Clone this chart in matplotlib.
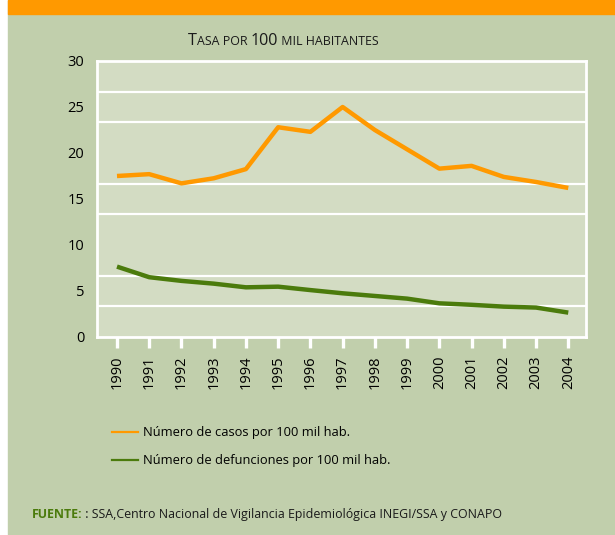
import matplotlib
matplotlib.use("Agg")
import matplotlib.pyplot as plt
from matplotlib.lines import Line2D
from matplotlib.patches import Rectangle
from matplotlib.ticker import FixedLocator

plt.rcParams['font.family'] = ['Open Sans', 'DejaVu Sans']

years = [1990, 1991, 1992, 1993, 1994, 1995, 1996, 1997, 1998, 1999, 2000, 2001, 2002, 2003, 2004]
casos = [17.5, 17.7, 16.7, 17.25, 18.25, 22.8, 22.3, 25.0, 22.5, 20.4, 18.3, 18.6, 17.4, 16.85, 16.2]
defunciones = [7.65, 6.5, 6.1, 5.8, 5.4, 5.47, 5.1, 4.75, 4.46, 4.17, 3.66, 3.5, 3.3, 3.2, 2.65]
yticks = [0, 5, 10, 15, 20, 25, 30]
label_casos = "Número de casos por 100 mil hab."
label_def = "Número de defunciones por 100 mil hab."

ORANGE = "#ff9900"
GREEN = "#4b7b0c"
FIG_BG = "#c1cfac"
AX_BG = "#d3dcc3"

W, H = 615, 535
fig = plt.figure(figsize=(6.15, 5.35), dpi=100)
fig.patch.set_facecolor("white")
fig.add_artist(Rectangle((8/W, 0), 1, 1, transform=fig.transFigure, color=FIG_BG, zorder=-10))
fig.add_artist(Rectangle((8/W, 1-14/H), 1, 14/H, transform=fig.transFigure, color=ORANGE, zorder=-9))

ax = fig.add_axes([97/W, 1-337/H, (586-97)/W, (337-61)/H])
ax.set_facecolor(AX_BG)
ax.plot(years, casos, color=ORANGE, lw=3.2, solid_capstyle='butt', zorder=3)
ax.plot(years, defunciones, color=GREEN, lw=3.2, solid_capstyle='butt', zorder=3)

ax.set_xlim(1989.38, 2004.55)
ax.set_ylim(0, 30)
ax.set_yticks(yticks)
ax.set_yticklabels([str(v) for v in yticks], fontsize=10.5)
ax.yaxis.set_minor_locator(FixedLocator([i * 10 / 3 for i in range(10)]))
ax.grid(which='minor', axis='y', color='white', lw=1.6)
ax.tick_params(axis='y', which='both', length=0, pad=9, labelsize=10.5)
ax.set_xticks(years)
ax.set_xticklabels([str(y) for y in years], rotation=90, fontsize=10.5)
ax.tick_params(axis='x', length=8, width=2.4, color='white', direction='out', pad=5)
for s in ax.spines.values():
    s.set_color('white')
    s.set_linewidth(2)

# title in small caps
ty = 1 - 45/H
parts = [("T", 11.6), ("ASA POR ", 8.9), ("100", 11.6), (" MIL HABITANTES", 8.9)]
x0 = 188/W
renderer = fig.canvas.get_renderer()
for txt, fs in parts:
    t = fig.text(x0, ty, txt, fontsize=fs, color='#1a1a1a', va='baseline')
    bb = t.get_window_extent(renderer=renderer)
    x0 = x0 + bb.width / W

# legend
handles = [Line2D([], [], color=ORANGE, lw=1.6), Line2D([], [], color=GREEN, lw=1.6)]
fig.legend(handles, [label_casos, label_def], loc='upper left',
           bbox_to_anchor=(107/W, 1-421/H), frameon=False, fontsize=9.3,
           handlelength=2.0, handletextpad=0.4, labelspacing=1.15,
           borderaxespad=0, borderpad=0.4)

fig.text(32/W, 1-518/H, "FUENTE:", fontsize=8.9, color=GREEN, fontweight='bold', va='baseline')
fig.text(82/W, 1-518/H, " : SSA,Centro Nacional de Vigilancia Epidemiológica INEGI/SSA y CONAPO",
         fontsize=8.9, color='#1a1a1a', va='baseline')

fig.savefig("out.png", dpi=100, facecolor=fig.get_facecolor())
